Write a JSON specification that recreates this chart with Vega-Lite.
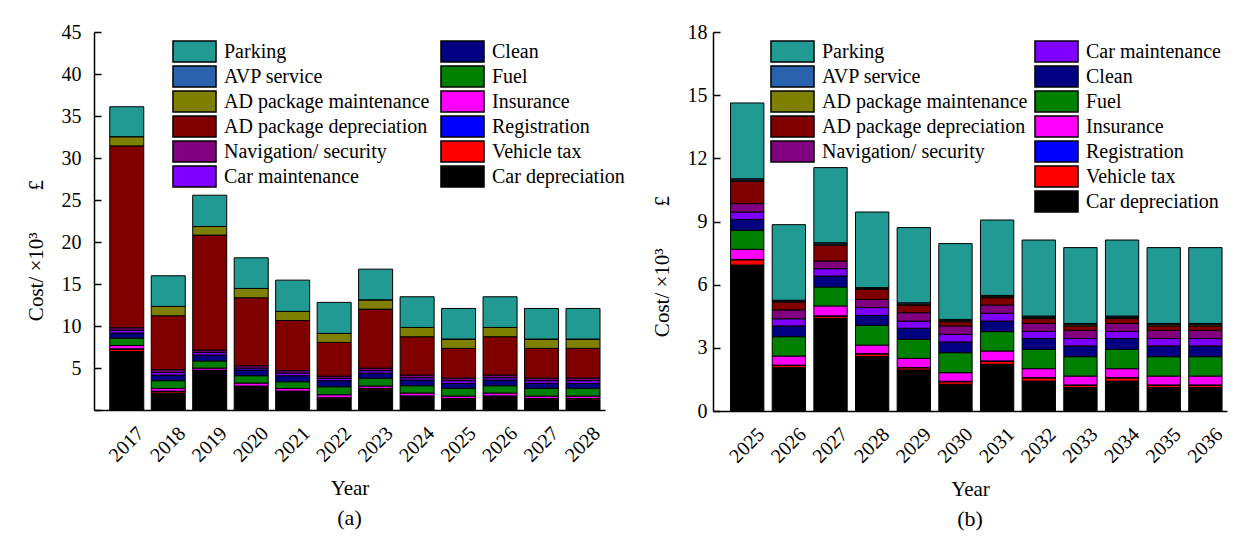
{
  "$schema": "https://vega.github.io/schema/vega-lite/v6.json",
  "padding": {"left": 25, "top": 22, "right": 5, "bottom": 5},
  "background": "white",
  "datasets": {
    "cats": [
      {"item": "Car depreciation", "k": 1},
      {"item": "Vehicle tax", "k": 2},
      {"item": "Registration", "k": 3},
      {"item": "Insurance", "k": 4},
      {"item": "Fuel", "k": 5},
      {"item": "Clean", "k": 6},
      {"item": "Car maintenance", "k": 7},
      {"item": "Navigation/ security", "k": 8},
      {"item": "AD package depreciation", "k": 9},
      {"item": "AD package maintenance", "k": 10},
      {"item": "AVP service", "k": 11},
      {"item": "Parking", "k": 12}
    ],
    "a": [
      {"Year": "2017", "Car depreciation": 6.95, "Vehicle tax": 0.3, "Registration": 0.03, "Insurance": 0.4, "Fuel": 0.88, "Clean": 0.6, "Car maintenance": 0.35, "Navigation/ security": 0.28, "AD package depreciation": 21.65, "AD package maintenance": 1.1, "AVP service": 0, "Parking": 3.56},
      {"Year": "2018", "Car depreciation": 2.02, "Vehicle tax": 0.2, "Registration": 0.03, "Insurance": 0.33, "Fuel": 0.91, "Clean": 0.67, "Car maintenance": 0.32, "Navigation/ security": 0.32, "AD package depreciation": 6.42, "AD package maintenance": 1.11, "AVP service": 0, "Parking": 3.65},
      {"Year": "2019", "Car depreciation": 4.65, "Vehicle tax": 0.06, "Registration": 0.03, "Insurance": 0.25, "Fuel": 0.85, "Clean": 0.71, "Car maintenance": 0.32, "Navigation/ security": 0.27, "AD package depreciation": 13.68, "AD package maintenance": 1.03, "AVP service": 0, "Parking": 3.72},
      {"Year": "2020", "Car depreciation": 2.7, "Vehicle tax": 0.12, "Registration": 0.03, "Insurance": 0.36, "Fuel": 0.87, "Clean": 0.68, "Car maintenance": 0.23, "Navigation/ security": 0.28, "AD package depreciation": 8.09, "AD package maintenance": 1.11, "AVP service": 0, "Parking": 3.65},
      {"Year": "2021", "Car depreciation": 2.1, "Vehicle tax": 0.12, "Registration": 0.03, "Insurance": 0.32, "Fuel": 0.8, "Clean": 0.71, "Car maintenance": 0.32, "Navigation/ security": 0.28, "AD package depreciation": 5.97, "AD package maintenance": 1.09, "AVP service": 0, "Parking": 3.72},
      {"Year": "2022", "Car depreciation": 1.31, "Vehicle tax": 0.12, "Registration": 0.03, "Insurance": 0.36, "Fuel": 0.95, "Clean": 0.72, "Car maintenance": 0.28, "Navigation/ security": 0.27, "AD package depreciation": 4.01, "AD package maintenance": 1.07, "AVP service": 0, "Parking": 3.69},
      {"Year": "2023", "Car depreciation": 2.42, "Vehicle tax": 0.13, "Registration": 0.03, "Insurance": 0.27, "Fuel": 0.92, "Clean": 0.63, "Car maintenance": 0.28, "Navigation/ security": 0.31, "AD package depreciation": 7.02, "AD package maintenance": 1.11, "AVP service": 0, "Parking": 3.65},
      {"Year": "2024", "Car depreciation": 1.55, "Vehicle tax": 0.1, "Registration": 0.03, "Insurance": 0.34, "Fuel": 0.87, "Clean": 0.68, "Car maintenance": 0.27, "Navigation/ security": 0.32, "AD package depreciation": 4.56, "AD package maintenance": 1.11, "AVP service": 0, "Parking": 3.65},
      {"Year": "2025", "Car depreciation": 1.23, "Vehicle tax": 0.12, "Registration": 0.03, "Insurance": 0.28, "Fuel": 0.92, "Clean": 0.59, "Car maintenance": 0.32, "Navigation/ security": 0.31, "AD package depreciation": 3.54, "AD package maintenance": 1.11, "AVP service": 0, "Parking": 3.64},
      {"Year": "2026", "Car depreciation": 1.55, "Vehicle tax": 0.1, "Registration": 0.03, "Insurance": 0.34, "Fuel": 0.87, "Clean": 0.68, "Car maintenance": 0.27, "Navigation/ security": 0.32, "AD package depreciation": 4.56, "AD package maintenance": 1.11, "AVP service": 0, "Parking": 3.65},
      {"Year": "2027", "Car depreciation": 1.23, "Vehicle tax": 0.12, "Registration": 0.03, "Insurance": 0.28, "Fuel": 0.92, "Clean": 0.59, "Car maintenance": 0.32, "Navigation/ security": 0.31, "AD package depreciation": 3.54, "AD package maintenance": 1.11, "AVP service": 0, "Parking": 3.64},
      {"Year": "2028", "Car depreciation": 1.23, "Vehicle tax": 0.12, "Registration": 0.03, "Insurance": 0.28, "Fuel": 0.92, "Clean": 0.59, "Car maintenance": 0.32, "Navigation/ security": 0.31, "AD package depreciation": 3.54, "AD package maintenance": 1.11, "AVP service": 0, "Parking": 3.64}
    ],
    "b": [
      {"Year": "2025", "Car depreciation": 6.93, "Vehicle tax": 0.25, "Registration": 0.02, "Insurance": 0.48, "Fuel": 0.9, "Clean": 0.52, "Car maintenance": 0.35, "Navigation/ security": 0.4, "AD package depreciation": 1.07, "AD package maintenance": 0.05, "AVP service": 0.06, "Parking": 3.6},
      {"Year": "2026", "Car depreciation": 2.06, "Vehicle tax": 0.1, "Registration": 0.02, "Insurance": 0.43, "Fuel": 0.92, "Clean": 0.51, "Car maintenance": 0.34, "Navigation/ security": 0.42, "AD package depreciation": 0.38, "AD package maintenance": 0.04, "AVP service": 0.04, "Parking": 3.59},
      {"Year": "2027", "Car depreciation": 4.4, "Vehicle tax": 0.1, "Registration": 0.02, "Insurance": 0.47, "Fuel": 0.9, "Clean": 0.52, "Car maintenance": 0.35, "Navigation/ security": 0.36, "AD package depreciation": 0.75, "AD package maintenance": 0.06, "AVP service": 0.06, "Parking": 3.57},
      {"Year": "2028", "Car depreciation": 2.58, "Vehicle tax": 0.13, "Registration": 0.02, "Insurance": 0.4, "Fuel": 0.94, "Clean": 0.47, "Car maintenance": 0.37, "Navigation/ security": 0.39, "AD package depreciation": 0.48, "AD package maintenance": 0.04, "AVP service": 0.04, "Parking": 3.59},
      {"Year": "2029", "Car depreciation": 1.95, "Vehicle tax": 0.1, "Registration": 0.02, "Insurance": 0.43, "Fuel": 0.9, "Clean": 0.53, "Car maintenance": 0.34, "Navigation/ security": 0.4, "AD package depreciation": 0.36, "AD package maintenance": 0.05, "AVP service": 0.06, "Parking": 3.57},
      {"Year": "2030", "Car depreciation": 1.27, "Vehicle tax": 0.12, "Registration": 0.02, "Insurance": 0.41, "Fuel": 0.95, "Clean": 0.51, "Car maintenance": 0.36, "Navigation/ security": 0.4, "AD package depreciation": 0.2, "AD package maintenance": 0.05, "AVP service": 0.06, "Parking": 3.6},
      {"Year": "2031", "Car depreciation": 2.22, "Vehicle tax": 0.14, "Registration": 0.02, "Insurance": 0.47, "Fuel": 0.92, "Clean": 0.5, "Car maintenance": 0.37, "Navigation/ security": 0.39, "AD package depreciation": 0.35, "AD package maintenance": 0.05, "AVP service": 0.06, "Parking": 3.58},
      {"Year": "2032", "Car depreciation": 1.42, "Vehicle tax": 0.15, "Registration": 0.02, "Insurance": 0.42, "Fuel": 0.92, "Clean": 0.51, "Car maintenance": 0.34, "Navigation/ security": 0.38, "AD package depreciation": 0.23, "AD package maintenance": 0.06, "AVP service": 0.06, "Parking": 3.61},
      {"Year": "2033", "Car depreciation": 1.11, "Vehicle tax": 0.11, "Registration": 0.02, "Insurance": 0.42, "Fuel": 0.92, "Clean": 0.51, "Car maintenance": 0.35, "Navigation/ security": 0.39, "AD package depreciation": 0.21, "AD package maintenance": 0.06, "AVP service": 0.06, "Parking": 3.6},
      {"Year": "2034", "Car depreciation": 1.42, "Vehicle tax": 0.15, "Registration": 0.02, "Insurance": 0.42, "Fuel": 0.92, "Clean": 0.51, "Car maintenance": 0.34, "Navigation/ security": 0.38, "AD package depreciation": 0.23, "AD package maintenance": 0.06, "AVP service": 0.06, "Parking": 3.61},
      {"Year": "2035", "Car depreciation": 1.11, "Vehicle tax": 0.11, "Registration": 0.02, "Insurance": 0.42, "Fuel": 0.92, "Clean": 0.51, "Car maintenance": 0.35, "Navigation/ security": 0.39, "AD package depreciation": 0.21, "AD package maintenance": 0.06, "AVP service": 0.06, "Parking": 3.6},
      {"Year": "2036", "Car depreciation": 1.11, "Vehicle tax": 0.11, "Registration": 0.02, "Insurance": 0.42, "Fuel": 0.92, "Clean": 0.51, "Car maintenance": 0.35, "Navigation/ security": 0.39, "AD package depreciation": 0.21, "AD package maintenance": 0.06, "AVP service": 0.06, "Parking": 3.6}
    ]
  },
  "spacing": 108,
  "bounds": "flush",
  "resolve": {"scale": {"color": "independent", "x": "independent", "y": "independent"}},
  "hconcat": [
    {
      "width": 511,
      "height": 378,
      "data": {"name": "a"},
      "transform": [
        {"fold": ["Car depreciation", "Vehicle tax", "Registration", "Insurance", "Fuel", "Clean", "Car maintenance", "Navigation/ security", "AD package depreciation", "AD package maintenance", "AVP service", "Parking"], "as": ["item", "cost"]},
        {"lookup": "item", "from": {"data": {"name": "cats"}, "key": "item", "fields": ["k"]}}
      ],
      "title": {"text": "(a)", "orient": "bottom", "offset": 10},
      "mark": {"type": "bar", "stroke": "black", "strokeWidth": 1},
      "encoding": {
        "x": {
          "field": "Year", "type": "ordinal",
          "scale": {"paddingInner": 0.18, "paddingOuter": 0.25, "align": 0.76},
          "axis": {"title": "Year", "labelAngle": -45, "labelAlign": "center", "labelBaseline": "middle", "labelPadding": 34, "ticks": false, "titlePadding": 12}
        },
        "y": {
          "field": "cost", "type": "quantitative", "stack": "zero",
          "scale": {"domain": [0, 45], "nice": false},
          "axis": {"title": "Cost/ ×10³\u2003\u2003£", "values": [0, 5, 10, 15, 20, 25, 30, 35, 40, 45], "labelExpr": "datum.value === 0 ? '' : datum.label", "tickSize": -7, "labelPadding": 20, "titlePadding": 15, "titleY": 218}
        },
        "color": {
          "field": "item", "type": "nominal",
          "scale": {
            "domain": ["Parking", "AVP service", "AD package maintenance", "AD package depreciation", "Navigation/ security", "Car maintenance", "Clean", "Fuel", "Insurance", "Registration", "Vehicle tax", "Car depreciation"],
            "range": ["#229a94", "#2a62ad", "#808000", "#800000", "#800080", "#8000ff", "#000080", "#008000", "#ff00ff", "#0000ff", "#ff0000", "#000000"]
          },
          "legend": {"orient": "none", "legendX": 89, "legendY": 8, "columns": 2, "columnPadding": 7}
        },
        "order": {"field": "k", "type": "quantitative", "sort": "ascending"}
      }
    },
    {
      "width": 514,
      "height": 379,
      "data": {"name": "b"},
      "transform": [
        {"fold": ["Car depreciation", "Vehicle tax", "Registration", "Insurance", "Fuel", "Clean", "Car maintenance", "Navigation/ security", "AD package depreciation", "AD package maintenance", "AVP service", "Parking"], "as": ["item", "cost"]},
        {"lookup": "item", "from": {"data": {"name": "cats"}, "key": "item", "fields": ["k"]}}
      ],
      "title": {"text": "(b)", "orient": "bottom", "offset": 10},
      "mark": {"type": "bar", "stroke": "black", "strokeWidth": 1},
      "encoding": {
        "x": {
          "field": "Year", "type": "ordinal",
          "scale": {"paddingInner": 0.2, "paddingOuter": 0.27, "align": 0.78},
          "axis": {"title": "Year", "labelAngle": -45, "labelAlign": "center", "labelBaseline": "middle", "labelPadding": 34, "ticks": false, "titlePadding": 12}
        },
        "y": {
          "field": "cost", "type": "quantitative", "stack": "zero",
          "scale": {"domain": [0, 18], "nice": false},
          "axis": {"title": "Cost/ ×10³\u2003\u2003£", "values": [0, 3, 6, 9, 12, 15, 18], "tickSize": -7, "labelPadding": 13, "titlePadding": 15, "titleY": 234}
        },
        "color": {
          "field": "item", "type": "nominal",
          "scale": {
            "domain": ["Parking", "AVP service", "AD package maintenance", "AD package depreciation", "Navigation/ security", "_1", "_2", "Car maintenance", "Clean", "Fuel", "Insurance", "Registration", "Vehicle tax", "Car depreciation"],
            "range": ["#229a94", "#2a62ad", "#808000", "#800000", "#800080", "#ffffff", "#ffffff", "#8000ff", "#000080", "#008000", "#ff00ff", "#0000ff", "#ff0000", "#000000"]
          },
          "legend": {
            "orient": "none", "legendX": 68, "legendY": 8, "columns": 2, "columnPadding": 3,
            "labelExpr": "indexof(datum.label, '_') === 0 ? '' : datum.label",
            "encode": {"symbols": {"update": {"opacity": {"signal": "indexof(datum.value, '_') === 0 ? 0 : 1"}}}}
          }
        },
        "order": {"field": "k", "type": "quantitative", "sort": "ascending"}
      }
    }
  ],
  "config": {
    "font": "Liberation Serif",
    "view": {"stroke": null},
    "axis": {
      "labelFont": "Liberation Serif", "labelFontSize": 20, "labelColor": "black",
      "titleFont": "Liberation Serif", "titleFontSize": 21, "titleFontWeight": "normal", "titleColor": "black",
      "domainColor": "black", "domainWidth": 1.5, "tickColor": "black", "tickWidth": 1.5, "grid": false
    },
    "legend": {
      "title": null, "padding": 0,
      "symbolType": "M-2.05,-1H2.05V1H-2.05Z", "symbolSize": 441,
      "symbolStrokeColor": "black", "symbolStrokeWidth": 1.5, "symbolOpacity": 1,
      "labelFont": "Liberation Serif", "labelFontSize": 20, "labelColor": "black", "labelOffset": 18, "labelLimit": 400,
      "rowPadding": -2
    },
    "title": {"font": "Liberation Serif", "fontSize": 22, "fontWeight": "normal", "color": "black"}
  }
}
